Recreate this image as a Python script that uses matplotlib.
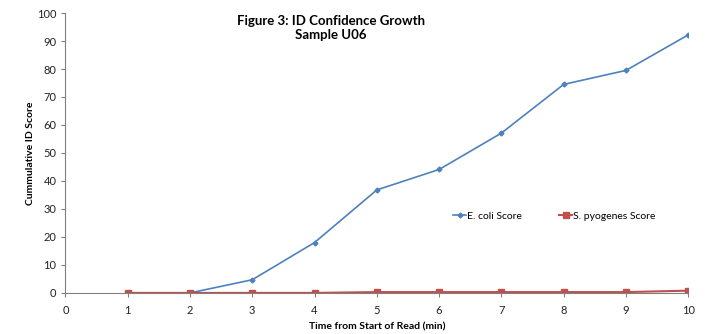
import matplotlib
matplotlib.use('Agg')
import matplotlib.pyplot as plt

minutes = [1, 2, 3, 4, 5, 6, 7, 8, 9, 10]
ecoli_score = [0.0, 0.0, 4.7, 18.0, 36.8, 44.1, 57.1, 74.5, 79.5, 92.2]
spyogenes_score = [0.0, 0.0, 0.0, 0.0, 0.3, 0.3, 0.3, 0.3, 0.3, 0.8]
series_names = ['E. coli Score', 'S. pyogenes Score']

plt.rcParams['font.family'] = ['Lato', 'DejaVu Sans']

fig = plt.figure(figsize=(7.11, 3.34), dpi=100)
ax = fig.add_axes([0.092, 0.123, 0.876, 0.838])

ax.plot(minutes, ecoli_score, color='#4F81BD', marker='D', markersize=2.5,
        linewidth=1.2, label=series_names[0])
ax.plot(minutes, spyogenes_score, color='#C0504D', marker='s', markersize=4,
        linewidth=1.5, label=series_names[1])

ax.set_xlim(0, 10)
ax.set_ylim(0, 100)
ax.set_xticks(range(0, 11))
ax.set_yticks(range(0, 101, 10))
ax.tick_params(colors='#808080', labelcolor='#222222', labelsize=8, length=3, width=0.8)
ax.tick_params(axis='x', pad=6)
for side in ['top', 'right']:
    ax.spines[side].set_visible(False)
for side in ['left', 'bottom']:
    ax.spines[side].set_color('#808080')
    ax.spines[side].set_linewidth(0.8)

ax.set_xlabel('Time from Start of Read (min)', fontsize=7.5, fontweight='bold', labelpad=4)
ax.set_ylabel('Cummulative ID Score', fontsize=7.5, fontweight='bold', labelpad=1)

fig.text(0.465, 0.955, 'Figure 3: ID Confidence Growth\nSample U06', ha='center', va='top',
         fontsize=9.5, fontweight='bold', linespacing=1.2)

ax.legend(loc='center', bbox_to_anchor=(0.785, 0.275), ncol=2, frameon=False,
          fontsize=7.5, handlelength=1.3, columnspacing=3.5, handletextpad=0.1)

fig.savefig('out.png', dpi=100)
